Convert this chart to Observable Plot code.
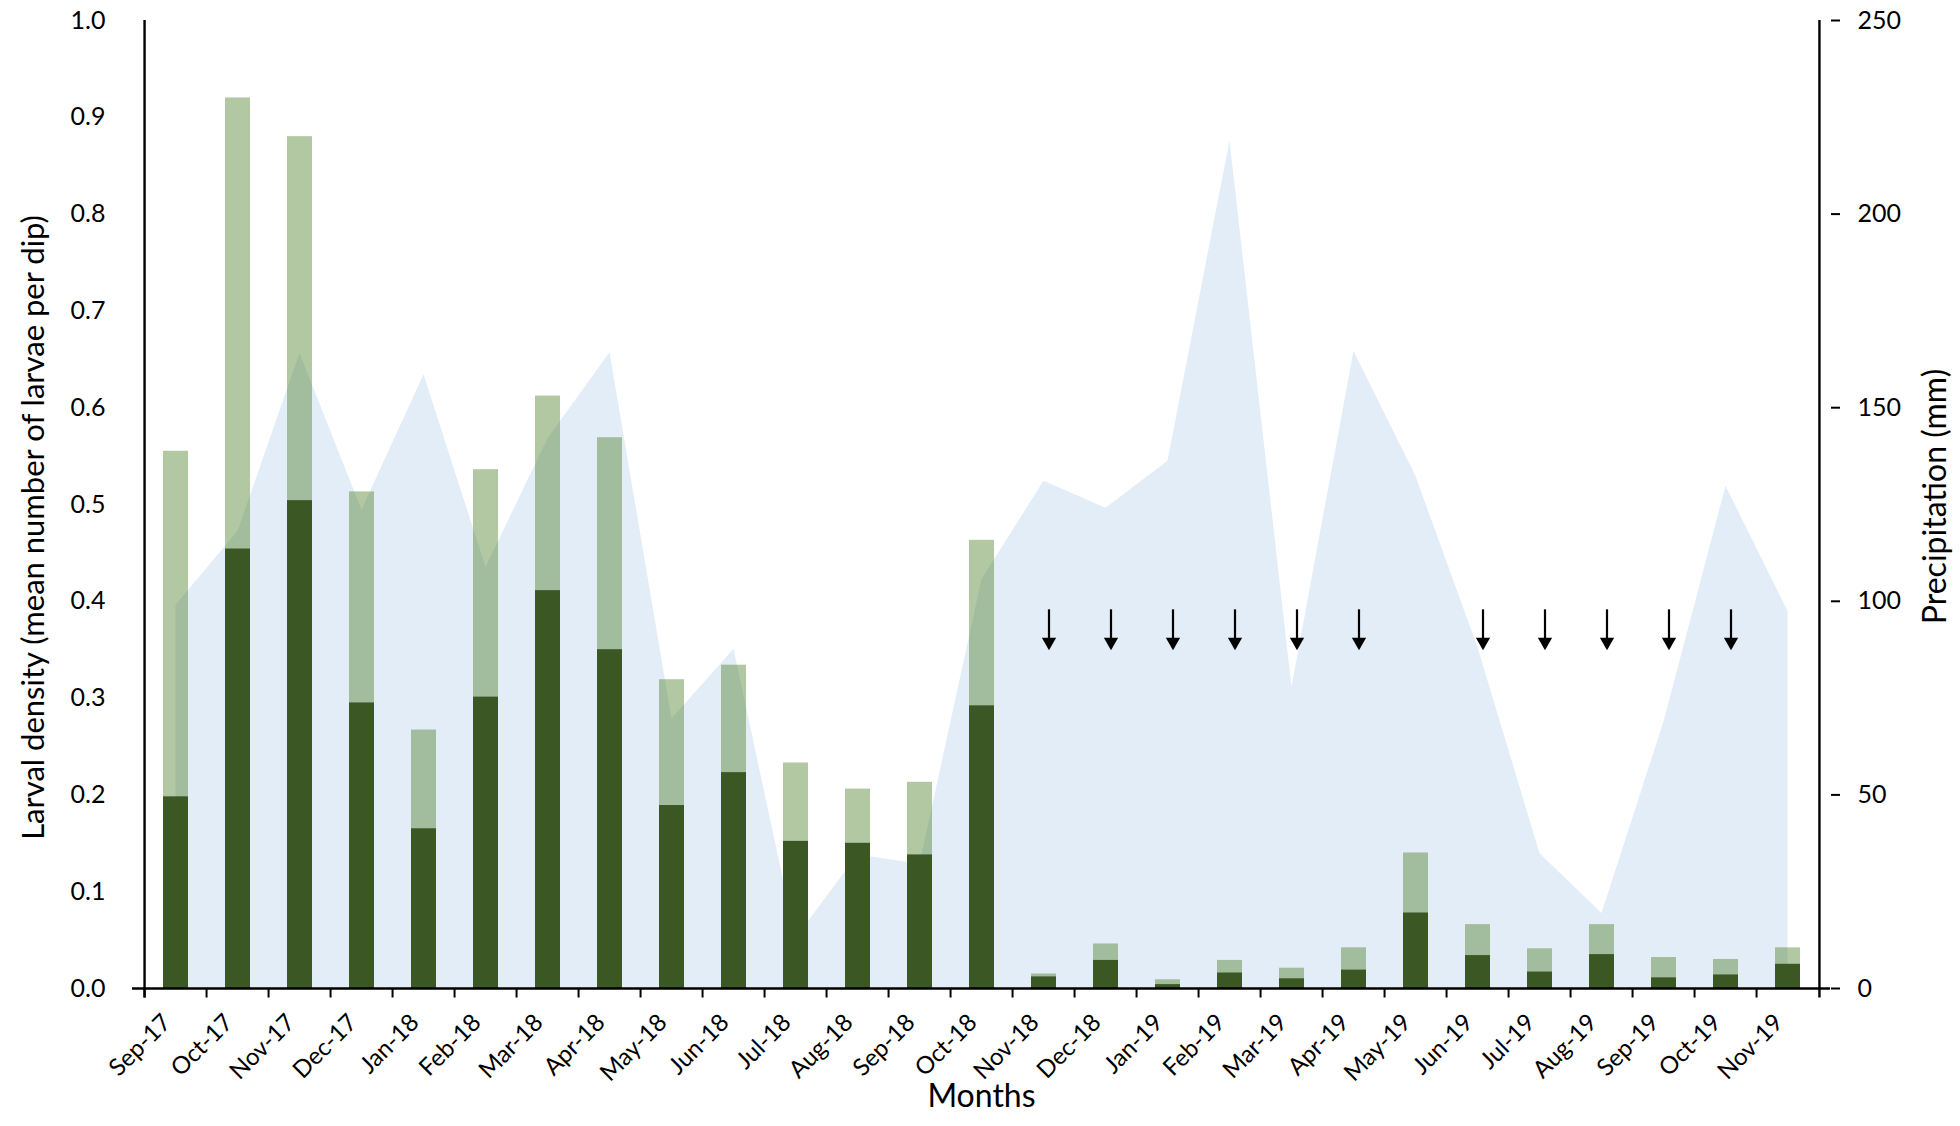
<!DOCTYPE html>
<html>
<head>
<meta charset="utf-8">
<script src="https://cdn.jsdelivr.net/npm/d3@7"></script>
<script src="https://cdn.jsdelivr.net/npm/@observablehq/plot@0.6"></script>
<style>
  html, body { margin: 0; padding: 0; background: #ffffff; }
  #chart svg { display: block; }
</style>
</head>
<body>
<div id="chart"></div>
<script>
// ---- Data ----
const months = ["Sep-17","Oct-17","Nov-17","Dec-17","Jan-18","Feb-18","Mar-18","Apr-18","May-18","Jun-18","Jul-18","Aug-18","Sep-18","Oct-18","Nov-18","Dec-18","Jan-19","Feb-19","Mar-19","Apr-19","May-19","Jun-19","Jul-19","Aug-19","Sep-19","Oct-19","Nov-19"];

// light green bars (total larval density)
const larvaeTotal = [0.555, 0.920, 0.880, 0.513, 0.267, 0.536, 0.612, 0.569, 0.319, 0.334, 0.233, 0.206, 0.213, 0.463, 0.015, 0.046, 0.009, 0.029, 0.021, 0.042, 0.140, 0.066, 0.041, 0.066, 0.032, 0.030, 0.042];

// dark green bars
const larvaeDark = [0.198, 0.454, 0.504, 0.295, 0.165, 0.301, 0.411, 0.350, 0.189, 0.223, 0.152, 0.150, 0.138, 0.292, 0.012, 0.029, 0.004, 0.016, 0.010, 0.019, 0.078, 0.034, 0.017, 0.035, 0.011, 0.014, 0.025];

// monthly precipitation (mm), right axis
const precipitation = [99, 118, 164, 123.5, 158.5, 108.7, 142, 164.2, 69.6, 87.6, 13, 34.5, 32.1, 105.6, 131, 124, 136.2, 218.9, 77.8, 164.5, 132.2, 88, 34.8, 19.4, 68.8, 129.7, 97.4];

// months marked with a downward arrow
const arrowMonths = ["Nov-18","Dec-18","Jan-19","Feb-19","Mar-19","Apr-19","Jun-19","Jul-19","Aug-19","Sep-19","Oct-19"];
const arrowTopMm = 97.8;   // arrow shaft top (mm on right axis)
const arrowHeadMm = 89.5;  // arrow head centre (mm on right axis)

const leftTicks = [0, 0.1, 0.2, 0.3, 0.4, 0.5, 0.6, 0.7, 0.8, 0.9, 1.0];
const rightTicks = [0, 50, 100, 150, 200, 250];
const precipMax = 250;

const leftTitle = "Larval density (mean number of larvae per dip)";
const rightTitle = "Precipitation (mm)";
const xTitle = "Months";

// ---- Tables ----
const barTable = months.map((m, i) => ({month: m, total: larvaeTotal[i], dark: larvaeDark[i]}));
const rainTable = months.map((m, i) => ({month: m, rain: precipitation[i] / precipMax}));

// ---- Layout ----
const W = 1960, H = 1126;
const mL = 132, mR = 130, mT = 20, mB = 138;
const plotH = H - mT - mB;
const step = (W - mL - mR) / months.length;
const tickLen = 9.5 / plotH; // x tick length in y units

const chart = Plot.plot({
  width: W,
  height: H,
  marginLeft: mL,
  marginRight: mR,
  marginTop: mT,
  marginBottom: mB,
  style: {fontFamily: "Lato, 'Open Sans', sans-serif", fontSize: "24px", color: "#000", background: "#fff", overflow: "visible"},
  x: {type: "band", domain: months, paddingInner: 0.6, paddingOuter: 0.3, axis: null},
  y: {domain: [0, 1], axis: null},
  marks: [
    Plot.areaY(rainTable, {x: "month", y: "rain", fill: "#e3edf7", curve: "linear"}),
    Plot.barY(barTable, {x: "month", y: "total", fill: "#3e7516", fillOpacity: 0.4}),
    Plot.barY(barTable, {x: "month", y: "dark", fill: "#3b5724"}),
    // arrows
    Plot.ruleX(arrowMonths, {x: d => d, y1: arrowTopMm / precipMax, y2: arrowHeadMm / precipMax, dx: 5, stroke: "#000", strokeWidth: 2.2}),
    Plot.dot(arrowMonths, {x: d => d, y: arrowHeadMm / precipMax, dx: 5, symbol: "triangle", rotate: 180, r: 5.3, fill: "#000", stroke: "none"}),
    // axis lines and ticks
    Plot.ruleY([0], {stroke: "#000", strokeWidth: 2.6}),
    Plot.ruleX(months, {x: d => d, y1: 0, y2: -tickLen, dx: -step / 2, stroke: "#000", strokeWidth: 2}),
    Plot.ruleX([months[0]], {x: d => d, y1: -tickLen, y2: 1, dx: -step / 2, stroke: "#000", strokeWidth: 2.4}),
    Plot.ruleX([months[months.length - 1]], {x: d => d, y1: -tickLen, y2: 1, dx: step / 2, stroke: "#000", strokeWidth: 2.4}),
    Plot.axisY(leftTicks, {anchor: "left", tickSize: 0, tickPadding: 27, tickFormat: d3.format(".1f"), fontSize: 25, label: null}),
    Plot.axisY(rightTicks.map(v => v / precipMax), {anchor: "right", tickSize: 9, tickPadding: 18, strokeWidth: 2, tickFormat: d => String(Math.round(d * precipMax)), fontSize: 25, label: null}),
    Plot.axisX({tickSize: 0, tickRotate: -45, tickPadding: 30, dx: -9, fontSize: 24, label: null}),
    // titles
    Plot.text([leftTitle], {frameAnchor: "left", rotate: -90, dx: -98, dy: 23, fontSize: 31, textAnchor: "middle", lineAnchor: "middle"}),
    Plot.text([rightTitle], {frameAnchor: "right", rotate: -90, dx: 105, dy: -8, fontSize: 32, textAnchor: "middle", lineAnchor: "middle"}),
    Plot.text([xTitle], {frameAnchor: "bottom", dy: 108, fontSize: 32, textAnchor: "middle", lineAnchor: "middle"})
  ]
});
document.getElementById("chart").appendChild(chart);
</script>
</body>
</html>
